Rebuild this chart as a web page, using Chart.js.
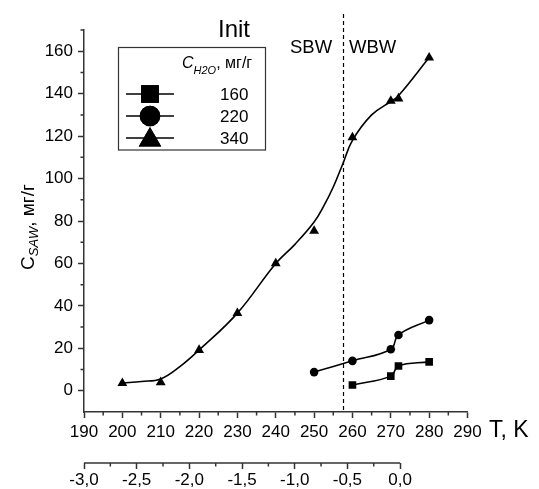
<!DOCTYPE html>
<html>
<head>
<meta charset="utf-8">
<script src="https://cdn.jsdelivr.net/npm/chart.js@4"></script>
<style>
  html, body { margin: 0; padding: 0; background: #fff; }
</style>
</head>
<body>
<canvas id="myChart" width="539" height="489"></canvas>
<script>
// series (T in K, C_SAW in mg/g)
var tempSq = [260, 270, 272, 280];
var valSq = [2.7, 6.9, 11.7, 13.6];
var tempCirc = [250, 260, 270, 272, 280];
var valCirc = [8.8, 14.1, 19.6, 26.3, 33.3];
var tempTri = [200, 210, 220, 230, 240, 250, 260, 270, 272, 280];
var valTri = [3.6, 4, 19.2, 36.6, 60, 75.3, 119.4, 136.6, 137.7, 157];
// smoothed curve drawn through the 340 points
var tempTriFit = [200, 205, 210, 215, 220, 230, 240, 245, 250, 252.5, 255, 257.5, 260, 265, 270, 272, 280];
var valTriFit = [3.6, 4.4, 5.6, 11.4, 19.2, 36.6, 60, 69, 79.5, 87, 96, 107, 118, 130, 136.3, 139, 157];
var seriesLabels = ['160', '220', '340'];
var yTicks = [0, 20, 40, 60, 80, 100, 120, 140, 160];
var boundaryT = 257.5;

var FONT = "'Liberation Sans', Arial, sans-serif";
var AXIS = '#333';
Chart.defaults.font.family = FONT;
Chart.defaults.color = '#000';

function pts(xs, ys) {
  return xs.map(function (x, i) { return { x: x, y: ys[i] }; });
}

function series(label, data, style, r, line) {
  return {
    label: label,
    data: data,
    showLine: line,
    tension: 0.4,
    borderColor: '#000',
    backgroundColor: '#000',
    borderWidth: 1.6,
    pointStyle: style,
    pointRadius: r,
    pointHoverRadius: r,
    pointBorderWidth: 0,
    pointBackgroundColor: '#000'
  };
}

function minorTicks(ctx, scale, values, horizontal) {
  ctx.save();
  ctx.strokeStyle = AXIS;
  ctx.lineWidth = 1.5;
  ctx.beginPath();
  values.forEach(function (v) {
    var p = scale.getPixelForValue(v);
    if (horizontal) {
      ctx.moveTo(p, scale.top);
      ctx.lineTo(p, scale.top + 3.5);
    } else {
      ctx.moveTo(scale.right, p);
      ctx.lineTo(scale.right - 3.5, p);
    }
  });
  ctx.stroke();
  ctx.restore();
}

function range(a, b, step) {
  var out = [];
  for (var v = a; v <= b + 1e-9; v += step) out.push(Math.round(v * 1000) / 1000);
  return out;
}

var decor = {
  id: 'decor',
  afterDraw: function (chart) {
    var ctx = chart.ctx;
    var xs = chart.scales.x, ys = chart.scales.y, x2 = chart.scales.x2;
    var area = chart.chartArea;

    minorTicks(ctx, xs, range(195, 285, 10), true);
    minorTicks(ctx, ys, range(10, 170, 20), false);
    minorTicks(ctx, x2, range(-2.75, -0.25, 0.5), true);

    // second axis line, only from -3 to 0
    ctx.save();
    ctx.strokeStyle = AXIS;
    ctx.lineWidth = 1.5;
    ctx.beginPath();
    ctx.moveTo(x2.getPixelForValue(-3), x2.top);
    ctx.lineTo(x2.getPixelForValue(0), x2.top);
    ctx.stroke();

    // SBW / WBW boundary
    var bx = Math.round(xs.getPixelForValue(boundaryT)) + 0.5;
    ctx.lineWidth = 1.2;
    ctx.strokeStyle = '#000';
    ctx.setLineDash([4, 3]);
    ctx.beginPath();
    ctx.moveTo(bx, 14);
    ctx.lineTo(bx, area.bottom);
    ctx.stroke();
    ctx.setLineDash([]);

    ctx.fillStyle = '#000';
    ctx.textBaseline = 'alphabetic';
    ctx.textAlign = 'left';
    ctx.font = '24px ' + FONT;
    ctx.fillText('Init', 218, 37);
    ctx.font = '18.5px ' + FONT;
    ctx.fillText('SBW', 290, 53);
    ctx.fillText('WBW', 349, 53);
    ctx.font = '23px ' + FONT;
    ctx.fillText('T, K', 489, 437);

    // y title with subscript
    ctx.save();
    ctx.translate(34, 227);
    ctx.rotate(-Math.PI / 2);
    ctx.font = '19px ' + FONT;
    var wC = ctx.measureText('C').width;
    var wU = ctx.measureText(', мг/г').width;
    ctx.font = 'italic 13px ' + FONT;
    var wS = ctx.measureText('SAW').width;
    var x0 = -(wC + wS + wU) / 2;
    ctx.font = '19px ' + FONT;
    ctx.fillText('C', x0, 0);
    ctx.font = 'italic 13px ' + FONT;
    ctx.fillText('SAW', x0 + wC, 4);
    ctx.font = '19px ' + FONT;
    ctx.fillText(', мг/г', x0 + wC + wS, 0);
    ctx.restore();

    // legend box
    ctx.lineWidth = 1.2;
    ctx.strokeStyle = AXIS;
    ctx.strokeRect(118.5, 47.5, 147, 102.5);
    ctx.font = 'italic 16px ' + FONT;
    ctx.fillText('C', 182, 68);
    var hx = 182 + ctx.measureText('C').width;
    ctx.font = 'italic 11px ' + FONT;
    ctx.fillText('H2O', hx, 74);
    hx += ctx.measureText('H2O').width;
    ctx.font = '16px ' + FONT;
    ctx.fillText(', мг/г', hx, 68);

    var rowsY = [94, 116, 138];
    var legendR = [12.5, 10.3, 13];
    chart.data.datasets.slice(0, 3).forEach(function (ds, i) {
      var y = rowsY[i];
      ctx.lineWidth = 1.6;
      ctx.strokeStyle = '#000';
      ctx.beginPath();
      ctx.moveTo(126, y);
      ctx.lineTo(174, y);
      ctx.stroke();
      ctx.fillStyle = '#000';
      var my = ds.pointStyle === 'triangle' ? y + 2 : y;
      Chart.helpers.drawPoint(ctx, { pointStyle: ds.pointStyle, radius: legendR[i], rotation: 0, borderWidth: 0 }, 150, my);
      ctx.fill();
      ctx.font = '17px ' + FONT;
      ctx.fillText(seriesLabels[i], 220, y + 6);
    });
    ctx.restore();
  }
};

var ctx = document.getElementById('myChart').getContext('2d');
var myChart = new Chart(ctx, {
  type: 'scatter',
  data: {
    datasets: [
      series(seriesLabels[0], pts(tempSq, valSq), 'rect', 5.4, true),
      series(seriesLabels[1], pts(tempCirc, valCirc), 'circle', 4.3, true),
      series(seriesLabels[2], pts(tempTri, valTri), 'triangle', 5.7, false),
      series('fit', pts(tempTriFit, valTriFit), 'circle', 0, true)
    ]
  },
  options: {
    responsive: false,
    animation: false,
    layout: { padding: { left: 0, right: 71.5, top: 30, bottom: 0 } },
    plugins: { legend: { display: false }, tooltip: { enabled: false } },
    scales: {
      x: {
        type: 'linear', position: 'bottom', weight: 0,
        min: 190, max: 290,
        ticks: { stepSize: 10, color: '#000', font: { size: 17 }, padding: 4, maxRotation: 0 },
        grid: { drawOnChartArea: false, tickLength: 6, tickColor: AXIS, tickWidth: 1.5 },
        border: { color: AXIS, width: 1.5 },
        afterFit: function (s) { s.height = 51; }
      },
      x2: {
        type: 'linear', position: 'bottom', weight: 1,
        min: -3, max: 0.64,
        ticks: {
          stepSize: 0.5, includeBounds: false, color: '#000', font: { size: 17 }, padding: 1, maxRotation: 0,
          callback: function (v) { if (Math.abs(v) < 1e-9) v = 0; return v.toFixed(1).replace('.', ','); }
        },
        afterBuildTicks: function (s) { s.ticks = s.ticks.filter(function (t) { return t.value <= 0.001; }); },
        grid: { drawOnChartArea: false, tickLength: 6, tickColor: AXIS, tickWidth: 1.5 },
        border: { display: false },
        afterFit: function (s) { s.height = 26; }
      },
      y: {
        min: -10, max: 170,
        ticks: { color: '#000', font: { size: 17 }, padding: 5 },
        afterBuildTicks: function (s) { s.ticks = yTicks.map(function (v) { return { value: v }; }); },
        grid: { drawOnChartArea: false, tickLength: 6, tickColor: AXIS, tickWidth: 1.5 },
        border: { color: AXIS, width: 1.5 },
        afterFit: function (s) { s.width = 84; }
      }
    }
  },
  plugins: [decor]
});
</script>
</body>
</html>
